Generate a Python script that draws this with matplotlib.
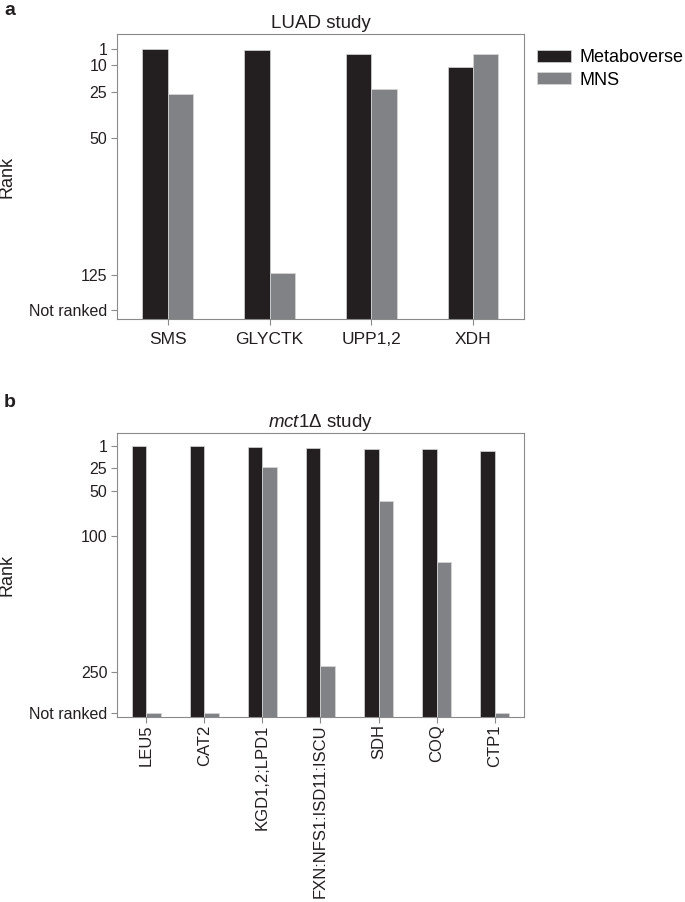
import numpy as np
import matplotlib
matplotlib.use("Agg")
import matplotlib.pyplot as plt

plt.rcParams['font.family'] = ['Liberation Sans', 'DejaVu Sans']
plt.rcParams['mathtext.fontset'] = 'custom'
plt.rcParams['mathtext.it'] = 'Liberation Sans:italic'
plt.rcParams['mathtext.rm'] = 'Liberation Sans'

# panel a: LUAD study
luad_genes = ["SMS", "GLYCTK", "UPP1,2", "XDH"]
luad_metaboverse = [1, 2, 4, 11]
luad_mns = [26, 124, 23, 4]
luad_not_ranked = 144
luad_ticks = [1, 10, 25, 50, 125, luad_not_ranked]
luad_ticklabels = ["1", "10", "25", "50", "125", "Not ranked"]

# panel b: mct1 study
mct_genes = ["LEU5", "CAT2", "KGD1,2;LPD1", "FXN:NFS1:ISD11:ISCU", "SDH", "COQ", "CTP1"]
mct_not_ranked = 295
mct_metaboverse = [1, 1, 2, 3, 4, 4, 6]
mct_mns = [mct_not_ranked, mct_not_ranked, 24, 243, 61, 129, mct_not_ranked]
mct_ticks = [1, 25, 50, 100, 250, mct_not_ranked]
mct_ticklabels = ["1", "25", "50", "100", "250", "Not ranked"]

black = "#231f20"
grey = "#808285"
spine = "#8a8a8a"
txt = "#231f20"


def rank_bars(ax, genes, meta, mns, ylim, ticks, ticklabels, rotate=False):
    x = np.arange(len(genes))
    w = 0.25
    base = ylim[0]
    ax.bar(x - w / 2, np.array(meta) - base, bottom=base, width=w,
           color=black, edgecolor="#d8d8d8", linewidth=0.5, label="Metaboverse")
    ax.bar(x + w / 2, np.array(mns) - base, bottom=base, width=w,
           color=grey, edgecolor="#d8d8d8", linewidth=0.5, label="MNS")
    ax.set_ylim(ylim)
    ax.set_xlim(-0.5, len(genes) - 0.5)
    ax.set_yticks(ticks)
    ax.set_yticklabels(ticklabels, fontsize=11.5, color=txt)
    ax.set_xticks(x)
    if rotate:
        ax.set_xticklabels(genes, rotation=90, fontsize=12, color=txt)
        ax.tick_params(axis="x", pad=1)
    else:
        ax.set_xticklabels(genes, fontsize=12.5, color=txt)
        ax.tick_params(axis="x", pad=5)
    for s in ax.spines.values():
        s.set_color(spine)
        s.set_linewidth(0.8)
    ax.tick_params(axis="both", length=4, width=0.8, color=spine)
    ax.tick_params(axis="y", pad=3)
    ax.set_ylabel("Rank", fontsize=13, color=txt)
    ax.yaxis.set_label_coords(-0.25, 0.5)


fig = plt.figure(figsize=(6.85, 9.02), dpi=100)

ax1 = fig.add_axes([0.1708, 0.6463, 0.594, 0.316])
rank_bars(ax1, luad_genes, luad_metaboverse, luad_mns, (149, -7),
          luad_ticks, luad_ticklabels)
ax1.set_title("LUAD study", fontsize=13.5, color=txt, pad=4)
ax1.legend(loc="upper left", bbox_to_anchor=(0.784, 0.9455),
           bbox_transform=fig.transFigure, frameon=False, fontsize=13,
           handlelength=1.9, handleheight=0.67, handletextpad=0.45,
           labelspacing=0.3, borderaxespad=0, borderpad=0)

ax2 = fig.add_axes([0.1708, 0.2048, 0.594, 0.3155])
rank_bars(ax2, mct_genes, mct_metaboverse, mct_mns, (300, -14),
          mct_ticks, mct_ticklabels, rotate=True)
ax2.set_title(r"$\it{mct}$1Δ study", fontsize=13.5, color=txt, pad=4)

fig.text(0.006, 0.998, "a", fontsize=14, fontweight="bold", va="top", color=txt)
fig.text(0.006, 0.5632, "b", fontsize=14, fontweight="bold", va="top", color=txt)

fig.savefig("out.png", dpi=100)
